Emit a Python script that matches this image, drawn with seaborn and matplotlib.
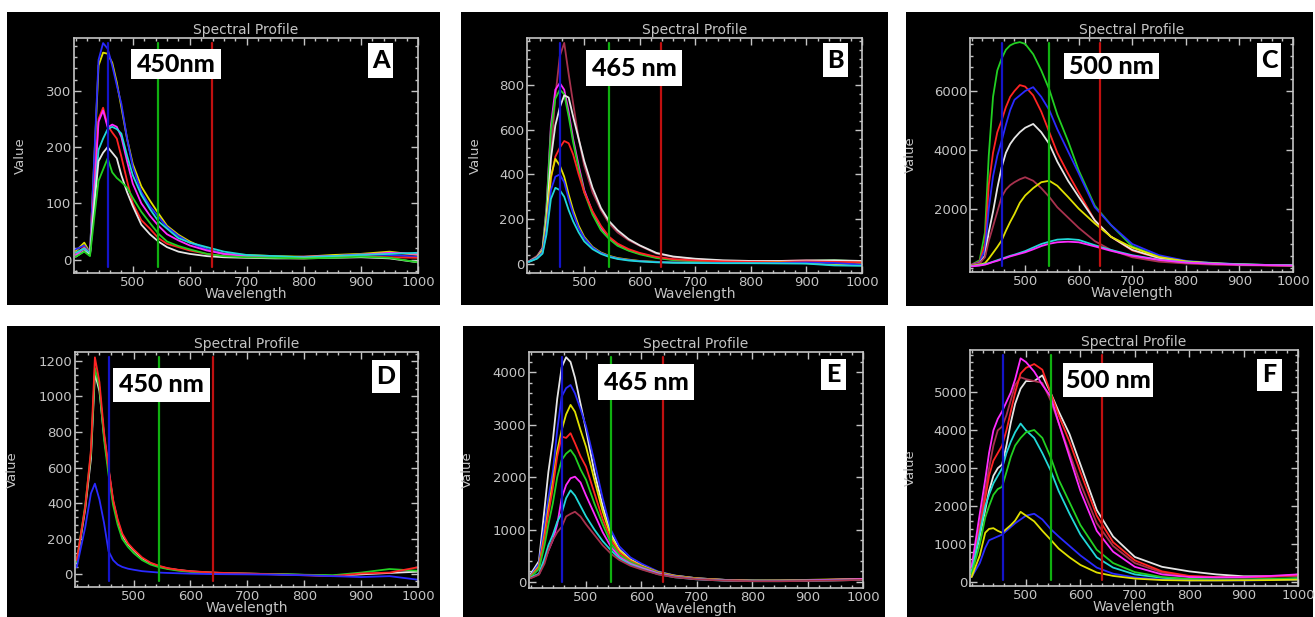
import matplotlib
matplotlib.use("Agg")
import matplotlib.pyplot as plt
from matplotlib.patches import Rectangle
from matplotlib.ticker import MultipleLocator
import numpy as np
import pandas as pd
import seaborn as sns

# wavelength grid (nm) shared by all panels
WL = [400, 415, 425, 432, 440, 448, 456, 464, 472, 480, 490, 500, 515, 530,
      545, 560, 580, 600, 630, 660, 700, 750, 800, 850, 900, 950, 1000]

# band markers drawn by the viewer
BANDS = {"blue": 457, "green": 545, "red": 639}

# panel A - 450nm
PANEL_A = {
    "yellow":  [15, 30, 12, 165, 345, 368, 366, 350, 315, 271, 215, 170, 130, 105, 82, 60, 44, 32, 18, 10, 8, 6, 5, 8, 10, 14, 8],
    "blue":    [18, 25, 12, 170, 355, 385, 375, 345, 310, 277, 215, 165, 120, 95, 76, 58, 42, 30, 18, 10, 7, 5, 4, 6, 9, 8, 5],
    "red":     [10, 22, 10, 120, 250, 270, 238, 226, 215, 183, 140, 100, 70, 55, 38, 28, 22, 16, 10, 6, 4, 3, 2, 5, 6, 4, 3],
    "magenta": [8, 20, 10, 110, 245, 265, 235, 240, 236, 218, 175, 135, 100, 78, 60, 45, 34, 25, 16, 10, 6, 4, 5, 6, 8, 12, 10],
    "cyan":    [12, 20, 10, 95, 195, 215, 232, 236, 232, 224, 185, 150, 115, 90, 68, 55, 38, 30, 22, 14, 8, 6, 4, 6, 8, 10, 12],
    "white":   [5, 15, 8, 90, 175, 190, 200, 190, 180, 150, 120, 95, 62, 45, 32, 22, 14, 10, 6, 4, 3, 2, 2, 3, 4, 2, -5],
    "green":   [5, 14, 6, 70, 140, 160, 180, 155, 145, 138, 128, 110, 85, 65, 46, 32, 24, 18, 10, 6, 4, 3, 2, 3, 5, 3, -5],
}

# panel B - 465 nm
PANEL_B = {
    "maroon":  [10, 35, 70, 200, 480, 750, 930, 990, 850, 720, 560, 440, 320, 240, 180, 140, 105, 80, 45, 30, 20, 12, 10, 12, 15, 12, 10],
    "magenta": [10, 30, 70, 250, 620, 780, 810, 780, 680, 560, 440, 330, 230, 160, 115, 85, 60, 45, 28, 18, 12, 8, 6, 8, 10, 12, 8],
    "green":   [8, 30, 65, 240, 600, 740, 780, 760, 660, 545, 425, 320, 220, 150, 110, 80, 58, 42, 25, 16, 10, 7, 5, 8, 12, 15, 10],
    "white":   [8, 28, 60, 200, 470, 620, 700, 755, 745, 660, 560, 460, 340, 250, 190, 150, 110, 82, 48, 32, 22, 15, 12, 12, 14, 15, 12],
    "red":     [8, 25, 55, 170, 380, 480, 520, 550, 540, 490, 400, 320, 235, 170, 120, 90, 65, 48, 30, 20, 14, 10, 8, 8, 10, 8, 6],
    "yellow":  [8, 25, 55, 170, 390, 470, 440, 390, 310, 240, 170, 120, 75, 50, 35, 25, 18, 12, 8, 5, 4, 3, 3, 5, 2, -5, -3],
    "blue":    [8, 25, 50, 150, 330, 390, 400, 365, 290, 225, 160, 115, 72, 48, 33, 23, 16, 11, 7, 5, 4, 3, 2, 3, 5, 3, -5],
    "cyan":    [8, 22, 45, 130, 290, 340, 330, 300, 240, 190, 140, 100, 65, 44, 30, 21, 14, 10, 6, 4, 3, 2, 2, 1, 0, -8, -10],
}

# panel C - 500 nm
PANEL_C = {
    "green":   [100, 250, 1200, 3800, 5800, 6700, 7100, 7400, 7550, 7620, 7660, 7600, 7250, 6700, 6050, 5200, 4300, 3300, 2100, 1450, 720, 380, 210, 150, 110, 85, 70],
    "red":     [100, 200, 800, 2800, 3900, 4600, 5000, 5450, 5800, 6000, 6200, 6150, 5850, 5300, 4600, 3900, 3200, 2550, 1600, 1050, 580, 320, 190, 140, 105, 80, 70],
    "blue":    [90, 180, 600, 2000, 3100, 3800, 4300, 4850, 5350, 5700, 5850, 6000, 6130, 5800, 5350, 4700, 3950, 3200, 2050, 1450, 800, 420, 230, 160, 115, 90, 80],
    "white":   [80, 150, 400, 1200, 1900, 2700, 3400, 3900, 4200, 4400, 4600, 4750, 4880, 4600, 4200, 3600, 2950, 2400, 1600, 1050, 600, 330, 200, 140, 100, 80, 70],
    "maroon":  [80, 150, 350, 900, 1400, 1900, 2400, 2650, 2800, 2900, 3000, 3070, 2950, 2700, 2400, 2050, 1700, 1350, 900, 600, 350, 200, 140, 100, 80, 70, 60],
    "yellow":  [60, 100, 150, 300, 500, 700, 920, 1250, 1550, 1820, 2200, 2450, 2700, 2900, 2950, 2780, 2400, 2000, 1500, 1050, 680, 360, 210, 150, 110, 90, 80],
    "cyan":    [50, 80, 120, 150, 200, 250, 300, 350, 400, 440, 500, 560, 680, 800, 880, 950, 970, 940, 760, 600, 420, 270, 180, 140, 110, 90, 80],
    "magenta": [40, 70, 100, 140, 190, 230, 280, 330, 380, 420, 470, 520, 620, 730, 810, 860, 880, 860, 720, 570, 400, 260, 170, 130, 100, 85, 70],
}

# panel D - 450 nm
PANEL_D = {
    "white":   [60, 370, 650, 1130, 1030, 780, 590, 410, 300, 220, 170, 135, 90, 62, 45, 33, 24, 17, 11, 7, 4, 1, -3, -8, 0, 8, 15],
    "green":   [70, 390, 680, 1160, 1050, 760, 560, 390, 280, 200, 155, 120, 80, 55, 40, 30, 20, 14, 10, 6, 4, 2, -2, -5, 10, 30, 20],
    "red":     [80, 380, 700, 1220, 1080, 800, 600, 420, 310, 230, 175, 140, 95, 65, 48, 35, 25, 18, 12, 8, 5, 0, -5, -10, 5, 10, 40],
    "blue":    [40, 265, 455, 510, 420, 290, 130, 80, 55, 42, 32, 26, 18, 14, 10, 8, 6, 4, 2, 1, 0, -2, -5, -10, -15, -10, -30],
}

# panel E - 465 nm
PANEL_E = {
    "white":   [150, 400, 1400, 2100, 2700, 3500, 4100, 4290, 4200, 3900, 3400, 2900, 2100, 1450, 920, 620, 430, 320, 190, 120, 70, 40, 30, 25, 30, 40, 50],
    "blue":    [120, 350, 1100, 1600, 2100, 2900, 3540, 3700, 3760, 3600, 3300, 2970, 2300, 1600, 990, 680, 470, 350, 200, 125, 70, 40, 25, 25, 30, 35, 45],
    "yellow":  [110, 300, 900, 1400, 1900, 2500, 2900, 3200, 3380, 3250, 2900, 2580, 1950, 1350, 860, 600, 420, 310, 190, 120, 70, 40, 25, 30, 40, 50, 60],
    "red":     [100, 280, 850, 1300, 1800, 2400, 2775, 2750, 2840, 2650, 2400, 2200, 1700, 1200, 800, 560, 400, 300, 180, 110, 65, 35, 20, 20, 25, 30, 40],
    "green":   [90, 250, 700, 1100, 1500, 2000, 2330, 2450, 2520, 2400, 2150, 1950, 1500, 1100, 735, 520, 380, 290, 175, 105, 60, 30, 20, 25, 35, 40, 50],
    "magenta": [80, 150, 400, 600, 800, 1100, 1600, 1850, 1980, 2010, 1900, 1650, 1300, 950, 670, 480, 350, 270, 165, 100, 55, 30, 20, 25, 30, 45, 55],
    "cyan":    [80, 160, 450, 700, 900, 1150, 1310, 1600, 1750, 1650, 1450, 1250, 1000, 780, 605, 450, 330, 250, 150, 90, 50, 25, 15, 15, 20, 30, 40],
    "maroon":  [70, 140, 350, 600, 800, 950, 1050, 1250, 1300, 1340, 1250, 1100, 900, 700, 540, 420, 310, 240, 145, 90, 50, 25, 15, 15, 20, 30, 40],
}

# panel F - 500 nm
PANEL_F = {
    "white":   [300, 1200, 1900, 2400, 2800, 3000, 3100, 3600, 4200, 4700, 5100, 5300, 5300, 5450, 5000, 4500, 3900, 3100, 1900, 1200, 660, 400, 280, 200, 150, 150, 170],
    "maroon":  [380, 1500, 2400, 3000, 3600, 4000, 4100, 4400, 4800, 5200, 5400, 5350, 5300, 5250, 4800, 4200, 3400, 2600, 1550, 950, 500, 250, 150, 120, 120, 140, 160],
    "red":     [350, 1400, 2200, 2800, 3200, 3400, 3600, 4000, 4500, 5000, 5500, 5650, 5750, 5600, 5000, 4400, 3700, 2900, 1750, 1050, 570, 280, 160, 130, 120, 150, 180],
    "magenta": [400, 1800, 2700, 3400, 4000, 4300, 4500, 4750, 5000, 5350, 5900, 5800, 5550, 5200, 4900, 4200, 3300, 2400, 1350, 800, 400, 200, 130, 120, 130, 160, 200],
    "cyan":    [250, 1300, 2000, 2300, 2600, 2800, 3000, 3400, 3700, 3950, 4180, 4000, 3800, 3400, 2950, 2400, 1800, 1250, 650, 380, 200, 110, 70, 60, 60, 70, 90],
    "green":   [200, 1000, 1700, 2000, 2300, 2450, 2510, 2900, 3300, 3600, 3800, 3950, 4010, 3800, 3300, 2700, 2100, 1500, 850, 500, 260, 130, 80, 60, 60, 80, 100],
    "blue":    [130, 500, 900, 1100, 1150, 1200, 1250, 1350, 1450, 1550, 1650, 1750, 1800, 1650, 1400, 1200, 950, 700, 380, 220, 120, 60, 40, 40, 40, 50, 60],
    "yellow":  [130, 700, 1300, 1400, 1420, 1350, 1300, 1400, 1500, 1620, 1850, 1750, 1600, 1350, 1120, 880, 650, 450, 250, 160, 90, 50, 40, 40, 45, 50, 60],
}

LINE_COLORS = {
    "yellow": "#e0e000", "blue": "#2a2aff", "red": "#ff2424", "magenta": "#ff2cff",
    "cyan": "#22d8d8", "white": "#e6e6e6", "green": "#22d022", "maroon": "#a8324e",
}
BAND_COLORS = {"blue": "#1414c8", "green": "#10b010", "red": "#c01010"}
GRAY = "#c4c4c4"

W, H = 1315, 617

sns.set_theme(style="ticks")
plt.rcParams["font.family"] = ["DejaVu Sans"]

fig = plt.figure(figsize=(W / 100, H / 100), dpi=100)
fig.patch.set_facecolor("white")


def fig_box(x0, y0, x1, y1):
    return (x0 / W, 1 - y1 / H), (x1 - x0) / W, (y1 - y0) / H


panels = [
    # data, black frame, axes box, yticks, ylim, minor step, "Value" right edge (px),
    # label, label box, letter, letter box
    (PANEL_A, (7, 12, 440, 305), (74, 38, 418, 273), [0, 100, 200, 300], (-24, 394), 20, 27,
     "450nm", (131, 49, 221, 79), "A", (368, 43, 393, 78)),
    (PANEL_B, (461, 12, 888, 305), (527, 38, 862, 273), [0, 200, 400, 600, 800], (-42, 1012), 40, 482,
     "465 nm", (586, 50, 682, 86), "B", (823, 43, 848, 77)),
    (PANEL_C, (906, 12, 1313, 306), (970, 38, 1293, 272), [2000, 4000, 6000], (-150, 7800), 400, 917,
     "500 nm", (1064, 53, 1159, 79), "C", (1257, 43, 1281, 77)),
    (PANEL_D, (7, 326, 440, 617), (75, 352, 418, 587), [0, 200, 400, 600, 800, 1000, 1200], (-71, 1250), 40, 19,
     "450 nm", (113, 368, 210, 402), "D", (372, 360, 400, 393)),
    (PANEL_E, (463, 326, 885, 617), (529, 352, 863, 588), [0, 1000, 2000, 3000, 4000], (-115, 4390), 200, 474,
     "465 nm", (598, 364, 694, 400), "E", (821, 359, 846, 390)),
    (PANEL_F, (907, 326, 1313, 617), (970, 350, 1298, 586), [0, 1000, 2000, 3000, 4000, 5000], (-106, 6120), 200, 917,
     "500 nm", (1063, 363, 1153, 397), "F", (1257, 359, 1282, 391)),
]

for data, frame, box, yticks, ylim, minor, ylab_x, label, lbox, letter, lebox in panels:
    xy, w, h = fig_box(*frame)
    fig.add_artist(Rectangle(xy, w, h, transform=fig.transFigure,
                             facecolor="black", edgecolor="none", zorder=-1))

    xy, w, h = fig_box(*box)
    ax = fig.add_axes([xy[0], xy[1], w, h])
    ax.set_facecolor("black")

    wide = pd.DataFrame(data, index=pd.Index(WL, name="Wavelength"))
    sns.lineplot(data=wide, palette=[LINE_COLORS[c] for c in wide.columns],
                 dashes=False, legend=False, linewidth=1.3, ax=ax)

    for name, wl in BANDS.items():
        ax.axvline(wl, ymin=0.025, ymax=0.98, color=BAND_COLORS[name], lw=1.6)

    ax.set_xlim(397, 1000)
    ax.set_ylim(*ylim)
    ax.set_xticks([500, 600, 700, 800, 900, 1000])
    ax.set_yticks(yticks)
    ax.xaxis.set_minor_locator(MultipleLocator(20))
    ax.yaxis.set_minor_locator(MultipleLocator(minor))
    ax.tick_params(which="both", direction="in", top=True, right=True,
                   color=GRAY, labelcolor=GRAY, labelsize=9.5, width=1)
    ax.tick_params(which="major", length=5, pad=2)
    ax.tick_params(which="minor", length=2.5)
    for sp in ax.spines.values():
        sp.set_color(GRAY)
        sp.set_linewidth(1.2)
    ax.set_title("Spectral Profile", color=GRAY, fontsize=10, pad=3)
    ax.set_xlabel("Wavelength", color=GRAY, fontsize=10, labelpad=-1)
    ax.set_ylabel("Value", color=GRAY, fontsize=9.5)
    ax.yaxis.set_label_coords((ylab_x - box[0]) / (box[2] - box[0]), 0.5)

    for text, (x0, y0, x1, y1) in ((label, lbox), (letter, lebox)):
        xy, w, h = fig_box(x0, y0, x1, y1)
        fig.add_artist(Rectangle(xy, w, h, transform=fig.transFigure,
                                 facecolor="white", edgecolor="none", zorder=5))
        fig.text((x0 + x1) / 2 / W, 1 - (y0 + y1) / 2 / H, text,
                 ha="center", va="center", fontsize=18, fontweight="black",
                 family=["Lato", "DejaVu Sans"], color="black", zorder=6)

fig.savefig("out.png", dpi=100, facecolor="white")
